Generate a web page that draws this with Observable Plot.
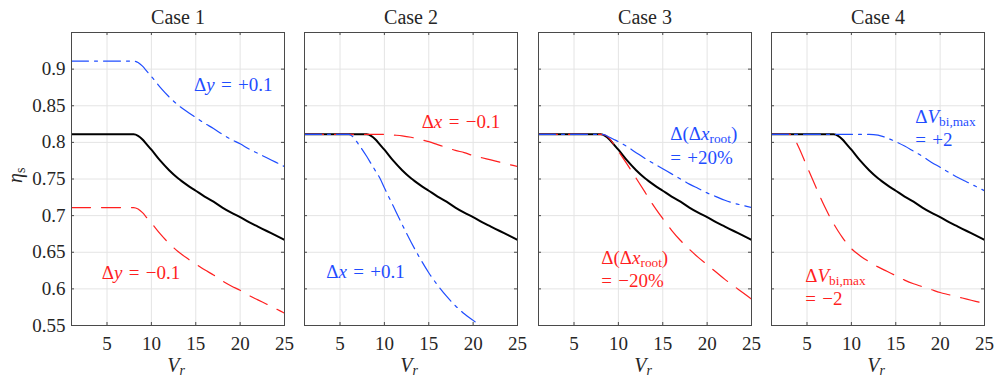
<!DOCTYPE html>
<html>
<head>
<meta charset="utf-8">
<script src="https://cdn.jsdelivr.net/npm/d3@7"></script>
<script src="https://cdn.jsdelivr.net/npm/@observablehq/plot@0.6"></script>
<style>
  html, body { margin: 0; padding: 0; background: #fff; }
  #chart { position: relative; width: 995px; height: 382px; overflow: hidden; }
  #chart svg { position: absolute; top: 0; overflow: visible; }
  #chart svg, #chart svg text, #chart svg tspan { font-family: "Liberation Serif", "DejaVu Serif", "Noto Serif", serif !important; }
</style>
</head>
<body>
<div id="chart"></div>
<script>
// ---------------- data ----------------
const caseTitles = ["Case 1", "Case 2", "Case 3", "Case 4"];
const xTicks = [5, 10, 15, 20, 25];
const yTicks = [0.55, 0.6, 0.65, 0.7, 0.75, 0.8, 0.85, 0.9];
const vr = [1, 2, 3, 3.5, 4, 5, 6, 6.5, 7, 8, 8.5, 9, 9.5, 10, 11, 12, 13, 14, 15, 16, 17, 18, 19, 20, 21, 22, 23, 24, 25];

// baseline (black, solid) – identical in every case
const baseline = [0.811, 0.811, 0.811, 0.811, 0.811, 0.811, 0.811, 0.811, 0.811, 0.811, 0.809, 0.804, 0.797, 0.790, 0.775, 0.762, 0.751, 0.742, 0.734, 0.726, 0.719, 0.711, 0.704, 0.698, 0.691, 0.685, 0.679, 0.673, 0.667];

// Case 1: Δy = +0.1 (blue) / −0.1 (red)
const case1Blue = [0.911, 0.911, 0.911, 0.911, 0.911, 0.911, 0.911, 0.911, 0.911, 0.911, 0.909, 0.904, 0.897, 0.890, 0.875, 0.862, 0.851, 0.842, 0.834, 0.826, 0.819, 0.811, 0.804, 0.798, 0.791, 0.785, 0.779, 0.773, 0.767];
const case1Red  = [0.711, 0.711, 0.711, 0.711, 0.711, 0.711, 0.711, 0.711, 0.711, 0.711, 0.709, 0.704, 0.697, 0.690, 0.675, 0.662, 0.651, 0.642, 0.634, 0.626, 0.619, 0.611, 0.604, 0.598, 0.591, 0.585, 0.579, 0.573, 0.567];

// Case 2: Δx = +0.1 (blue) / −0.1 (red)
const case2Blue = [0.811, 0.811, 0.811, 0.811, 0.811, 0.811, 0.811, 0.807, 0.799, 0.781, 0.771, 0.761, 0.751, 0.738, 0.713, 0.688, 0.664, 0.642, 0.622, 0.605, 0.590, 0.577, 0.566, 0.557, 0.548, null, null, null, null];
const case2Red  = [0.811, 0.811, 0.811, 0.811, 0.811, 0.811, 0.811, 0.811, 0.811, 0.811, 0.811, 0.811, 0.811, 0.811, 0.810, 0.809, 0.807, 0.804, 0.801, 0.797, 0.793, 0.789, 0.786, 0.782, 0.779, 0.776, 0.773, 0.770, 0.767];

// Case 3: Δ(Δx_root) = +20% (blue) / −20% (red)
const case3Blue = [0.811, 0.811, 0.811, 0.811, 0.811, 0.811, 0.811, 0.811, 0.811, 0.811, 0.810, 0.807, 0.804, 0.801, 0.794, 0.786, 0.778, 0.771, 0.764, 0.757, 0.750, 0.743, 0.737, 0.731, 0.726, 0.721, 0.717, 0.714, 0.711];
const case3Red  = [0.811, 0.811, 0.811, 0.811, 0.811, 0.811, 0.811, 0.811, 0.811, 0.811, 0.810, 0.805, 0.797, 0.788, 0.770, 0.751, 0.732, 0.713, 0.696, 0.680, 0.666, 0.654, 0.643, 0.633, 0.623, 0.613, 0.604, 0.595, 0.586];

// Case 4: ΔV_bi,max = +2 (blue) / −2 (red)
const case4Blue = [0.811, 0.811, 0.811, 0.811, 0.811, 0.811, 0.811, 0.811, 0.811, 0.811, 0.811, 0.811, 0.811, 0.811, 0.811, 0.811, 0.810, 0.806, 0.801, 0.795, 0.788, 0.781, 0.773, 0.766, 0.759, 0.752, 0.746, 0.740, 0.734];
const case4Red  = [0.811, 0.811, 0.811, 0.807, 0.795, 0.767, 0.739, 0.725, 0.712, 0.689, 0.679, 0.670, 0.662, 0.655, 0.645, 0.637, 0.630, 0.624, 0.618, 0.612, 0.607, 0.603, 0.599, 0.595, 0.592, 0.589, 0.586, 0.583, 0.580];

const blueSeries = [case1Blue, case2Blue, case3Blue, case4Blue];
const redSeries  = [case1Red, case2Red, case3Red, case4Red];

// annotations (anchored in data coordinates, left aligned; "\n" separates lines)
const annCase  = [0, 0, 1, 1, 2, 2, 3, 3];
const annX     = [14.8, 4.4, 14.2, 3.45, 15.85, 8.07, 17.2, 4.8];
const annY     = [0.880, 0.6235, 0.8296, 0.6244, 0.797, 0.628, 0.821, 0.604];
const annText  = [
  "Δ<i>y</i> = +0.1", "Δ<i>y</i> = −0.1",
  "Δ<i>x</i> = −0.1", "Δ<i>x</i> = +0.1",
  "Δ(Δ<i>x</i><sub>root</sub>)\n= +20%", "Δ(Δ<i>x</i><sub>root</sub>)\n= −20%",
  "Δ<i>V</i><sub>bi,max</sub>\n= +2", "Δ<i>V</i><sub>bi,max</sub>\n= −2"
];
const annSeries = ["blue", "red", "red", "blue", "blue", "red", "blue", "red"];

// ---------------- styles ----------------
const BLUE = "#1f4dff", RED = "#ff1f1f", INK = "#262626";
const FONT = "'Liberation Serif', 'DejaVu Serif', serif";
const FS = 19;
const panelLeft0 = 70.5, panelStep = 233.6, panelW = 213;
const ML = 60, MR = 5, MT = 32, MB = 57, H = 382;
const innerH = H - MT - MB;
const SUB = 3;

function rows(ys) {
  return vr.map((x, i) => ({x, y: ys[i]})).filter(d => d.y != null);
}

// tiny markup: <i>..</i> italic, <sub>..</sub> roman subscript, <isub>..</isub> italic subscript; " = " gets math spacing
function renderMath(svg) {
  const NS = "http://www.w3.org/2000/svg";
  svg.querySelectorAll("text").forEach(t => {
    const targets = t.querySelector("tspan") ? Array.from(t.querySelectorAll("tspan")) : [t];
    targets.forEach(el => {
      let s = el.textContent;
      if (!s.includes("<") && !s.includes("=")) return;
      s = s.replace(/ = /g, "\u2004=\u2004").replace(/^= /, "=\u2004");
      el.textContent = "";
      const re = /<i>(.*?)<\/i>|<sub>(.*?)<\/sub>|<isub>(.*?)<\/isub>|([^<]+)/g;
      let m, shifted = false;
      while ((m = re.exec(s))) {
        const ts = document.createElementNS(NS, "tspan");
        if (m[1] != null) {
          ts.textContent = m[1];
          ts.setAttribute("font-style", "italic");
        } else if (m[2] != null || m[3] != null) {
          ts.textContent = m[2] != null ? m[2] : m[3];
          if (m[3] != null) ts.setAttribute("font-style", "italic");
          ts.setAttribute("font-size", "0.7em");
          ts.setAttribute("dy", String(SUB));
          shifted = true;
          el.appendChild(ts);
          continue;
        } else {
          ts.textContent = m[4];
        }
        if (shifted) { ts.setAttribute("dy", String(-SUB)); shifted = false; }
        el.appendChild(ts);
      }
      if (shifted) {
        const ts = document.createElementNS(NS, "tspan");
        ts.setAttribute("dy", String(-SUB));
        ts.textContent = "\u2009";
        el.appendChild(ts);
      }
    });
  });
}

const chart = document.getElementById("chart");

caseTitles.forEach((title, i) => {
  const ann = annCase.map((c, k) => ({c, x: annX[k], y: annY[k], t: annText[k], s: annSeries[k]})).filter(d => d.c === i);
  const plot = Plot.plot({
    width: ML + panelW + MR,
    height: H,
    marginLeft: ML, marginRight: MR, marginTop: MT, marginBottom: MB,
    style: {fontFamily: FONT, fontSize: FS + "px", color: INK, background: "transparent", overflow: "visible"},
    x: {domain: [1, 25], ticks: xTicks, tickSize: 0, tickPadding: 11, label: null, tickFormat: d => String(d)},
    y: {domain: [0.55, 0.95], ticks: yTicks, tickSize: 0, tickPadding: 6, label: null, tickFormat: d => String(d), axis: i === 0 ? "left" : null},
    marks: [
      Plot.ruleX(xTicks, {stroke: "#e4e4e4", strokeWidth: 1}),
      Plot.ruleY(yTicks, {stroke: "#e4e4e4", strokeWidth: 1}),
      Plot.line(rows(baseline), {x: "x", y: "y", stroke: "#000", strokeWidth: 2, curve: "monotone-x", clip: true}),
      Plot.line(rows(redSeries[i]), {x: "x", y: "y", stroke: RED, strokeWidth: 1.2, strokeDasharray: "19,11", curve: "monotone-x", clip: true}),
      Plot.line(rows(blueSeries[i]), {x: "x", y: "y", stroke: BLUE, strokeWidth: 1.2, strokeDasharray: "17,6,3,6", curve: "monotone-x", clip: true}),
      Plot.frame({stroke: "#4a4a4a", strokeWidth: 1}),
      Plot.ruleY(yTicks.slice(1), {stroke: "#4a4a4a", insetRight: panelW - 3}),
      Plot.ruleY(yTicks.slice(1), {stroke: "#4a4a4a", insetLeft: panelW - 3}),
      Plot.ruleX(xTicks.slice(0, 4), {stroke: "#4a4a4a", insetBottom: innerH - 3}),
      Plot.ruleX(xTicks.slice(0, 4), {stroke: "#4a4a4a", insetTop: innerH - 3}),
      Plot.text(ann, {x: "x", y: "y", text: "t", fill: d => d.s === "blue" ? BLUE : RED, textAnchor: "start", lineAnchor: "middle", lineHeight: 1.22, fontSize: 19}),
      Plot.text([title], {frameAnchor: "top", dy: -15, lineAnchor: "middle", fill: INK, fontSize: 20}),
      Plot.text(["<i>V</i><isub>r</isub>"], {frameAnchor: "bottom", dy: 40, lineAnchor: "middle", fill: INK, fontSize: 20}),
      ...(i === 0 ? [Plot.text(["<i>η</i><sub>s</sub>"], {frameAnchor: "left", dx: -56, dy: 4, rotate: -90, lineAnchor: "middle", fill: INK, fontSize: 20})] : [])
    ]
  });
  renderMath(plot);
  plot.style.left = (panelLeft0 + i * panelStep - ML) + "px";
  chart.appendChild(plot);
});
</script>
</body>
</html>
